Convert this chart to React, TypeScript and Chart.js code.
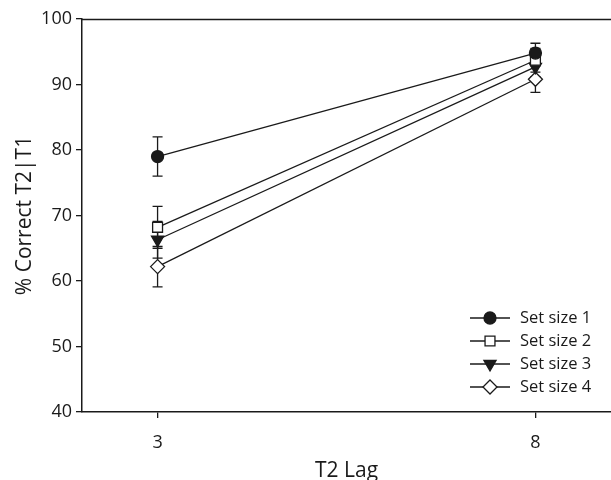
import React, { useEffect, useRef } from "react";
import { Chart, registerables } from "chart.js";

Chart.register(...registerables);

const lags = [3, 8];
const xTicks = [3, 8];
const yTicks = [40, 50, 60, 70, 80, 90, 100];
const seriesNames = ["Set size 1", "Set size 2", "Set size 3", "Set size 4"];
const set1 = [79.0, 94.8];
const set2 = [68.2, 93.7];
const set3 = [66.3, 92.7];
const set4 = [62.2, 90.8];
const err1 = [3.0, 1.5];
const err2 = [3.2, 1.8];
const err3 = [2.8, 1.5];
const err4 = [3.1, 2.0];

const INK = "#1a1a1a";
const FONT = "'Open Sans', 'DejaVu Sans', sans-serif";

type Marker = { style: string; rotation: number; radius: number; fill: string };
const markers: Marker[] = [
  { style: "circle", rotation: 0, radius: 6, fill: INK },
  { style: "rect", rotation: 0, radius: 7, fill: "#ffffff" },
  { style: "triangle", rotation: 180, radius: 7, fill: INK },
  { style: "rectRot", rotation: 0, radius: 7, fill: "#ffffff" },
];

function drawMarker(ctx: CanvasRenderingContext2D, m: Marker, x: number, y: number) {
  ctx.save();
  ctx.beginPath();
  const r = m.radius;
  if (m.style === "circle") {
    ctx.arc(x, y, r, 0, Math.PI * 2);
  } else if (m.style === "rect") {
    const s = Math.SQRT1_2 * r;
    ctx.rect(x - s, y - s, 2 * s, 2 * s);
  } else if (m.style === "triangle") {
    const rot = (m.rotation * Math.PI) / 180;
    for (let i = 0; i < 3; i++) {
      const a = rot - Math.PI / 2 + (i * 2 * Math.PI) / 3;
      const px = x + Math.cos(a) * r;
      const py = y + Math.sin(a) * r;
      if (i === 0) ctx.moveTo(px, py);
      else ctx.lineTo(px, py);
    }
    ctx.closePath();
  } else {
    ctx.moveTo(x, y - r);
    ctx.lineTo(x + r, y);
    ctx.lineTo(x, y + r);
    ctx.lineTo(x - r, y);
    ctx.closePath();
  }
  ctx.fillStyle = m.fill;
  ctx.fill();
  ctx.lineWidth = 1.3;
  ctx.strokeStyle = INK;
  ctx.stroke();
  ctx.restore();
}

const errorBarPlugin = {
  id: "errorBars",
  beforeDatasetsDraw(chart: any) {
    const { ctx, scales } = chart;
    const ys = scales.y;
    const xs = scales.x;
    chart.data.datasets.forEach((ds: any) => {
      const errs: number[] = ds.errors || [];
      ds.data.forEach((pt: any, i: number) => {
        const e = errs[i];
        if (e == null) return;
        const x = xs.getPixelForValue(pt.x);
        const yTop = ys.getPixelForValue(pt.y + e);
        const yBot = ys.getPixelForValue(pt.y - e);
        ctx.save();
        ctx.strokeStyle = INK;
        ctx.lineWidth = 1.3;
        ctx.beginPath();
        ctx.moveTo(x, yTop);
        ctx.lineTo(x, yBot);
        ctx.moveTo(x - 5, yTop);
        ctx.lineTo(x + 5, yTop);
        ctx.moveTo(x - 5, yBot);
        ctx.lineTo(x + 5, yBot);
        ctx.stroke();
        ctx.restore();
      });
    });
  },
};

const framePlugin = {
  id: "frameAndLegend",
  afterDraw(chart: any) {
    const { ctx, chartArea } = chart;
    ctx.save();
    ctx.strokeStyle = INK;
    ctx.lineWidth = 1.5;
    ctx.beginPath();
    ctx.moveTo(chartArea.left, chartArea.top + 0.5);
    ctx.lineTo(chartArea.right, chartArea.top + 0.5);
    ctx.stroke();
    // legend
    const lx0 = 470;
    const lx1 = 510;
    const tx = 520;
    const y0 = 318;
    const dy = 23;
    ctx.font = `16.5px ${FONT}`;
    ctx.fillStyle = INK;
    ctx.textBaseline = "middle";
    ctx.textAlign = "left";
    seriesNames.forEach((name, i) => {
      const y = y0 + i * dy;
      ctx.beginPath();
      ctx.strokeStyle = INK;
      ctx.lineWidth = 1.3;
      ctx.moveTo(lx0, y);
      ctx.lineTo(lx1, y);
      ctx.stroke();
      drawMarker(ctx, markers[i], (lx0 + lx1) / 2, y);
      ctx.fillStyle = INK;
      ctx.fillText(name, tx, y);
    });
    ctx.restore();
  },
};

export default function App() {
  const ref = useRef<HTMLCanvasElement | null>(null);
  useEffect(() => {
    if (!ref.current) return;
    const sets = [set1, set2, set3, set4];
    const errs = [err1, err2, err3, err4];
    const chart = new Chart(ref.current, {
      type: "line",
      data: {
        datasets: sets.map((vals, i) => ({
          label: seriesNames[i],
          data: lags.map((x, j) => ({ x, y: vals[j] })),
          errors: errs[i],
          borderColor: INK,
          borderWidth: 1.3,
          pointStyle: markers[i].style,
          pointRotation: markers[i].rotation,
          pointRadius: markers[i].radius,
          pointBackgroundColor: markers[i].fill,
          pointBorderColor: INK,
          pointBorderWidth: 1.3,
          fill: false,
          tension: 0,
          clip: false,
        })) as any,
      },
      options: {
        animation: false,
        responsive: true,
        maintainAspectRatio: false,
        layout: { autoPadding: false, padding: { top: 19, right: 0, left: 0, bottom: 0 } },
        plugins: { legend: { display: false }, tooltip: { enabled: false } },
        scales: {
          x: {
            type: "linear",
            min: 2,
            max: 9,
            afterBuildTicks: (s: any) => {
              s.ticks = xTicks.map((v) => ({ value: v }));
            },
            afterFit: (s: any) => {
              s.height = 68;
            },
            grid: { display: true, drawOnChartArea: false, drawTicks: true, tickLength: 6, color: INK, lineWidth: 1.3 },
            border: { display: true, color: INK, width: 1.5 },
            ticks: { color: INK, font: { family: FONT, size: 18 }, padding: 14 },
            title: { display: true, text: "T2 Lag", color: INK, font: { family: FONT, size: 21 }, padding: { top: 0, bottom: -4 } },
          },
          y: {
            min: 40,
            max: 100,
            afterBuildTicks: (s: any) => {
              s.ticks = yTicks.map((v) => ({ value: v }));
            },
            afterFit: (s: any) => {
              s.width = 82;
            },
            grid: { display: true, drawOnChartArea: false, drawTicks: true, tickLength: 6, color: INK, lineWidth: 1.3 },
            border: { display: true, color: INK, width: 1.5 },
            ticks: { color: INK, font: { family: FONT, size: 18 }, padding: 4 },
            title: { display: true, text: "% Correct T2|T1", color: INK, font: { family: FONT, size: 21 }, padding: { top: 12, bottom: 0 } },
          },
        },
      },
      plugins: [errorBarPlugin, framePlugin],
    });
    return () => chart.destroy();
  }, []);
  return (
    <div style={{ position: "fixed", left: 0, top: 0, width: 611, height: 480, background: "#fff" }}>
      <canvas ref={ref} />
    </div>
  );
}
